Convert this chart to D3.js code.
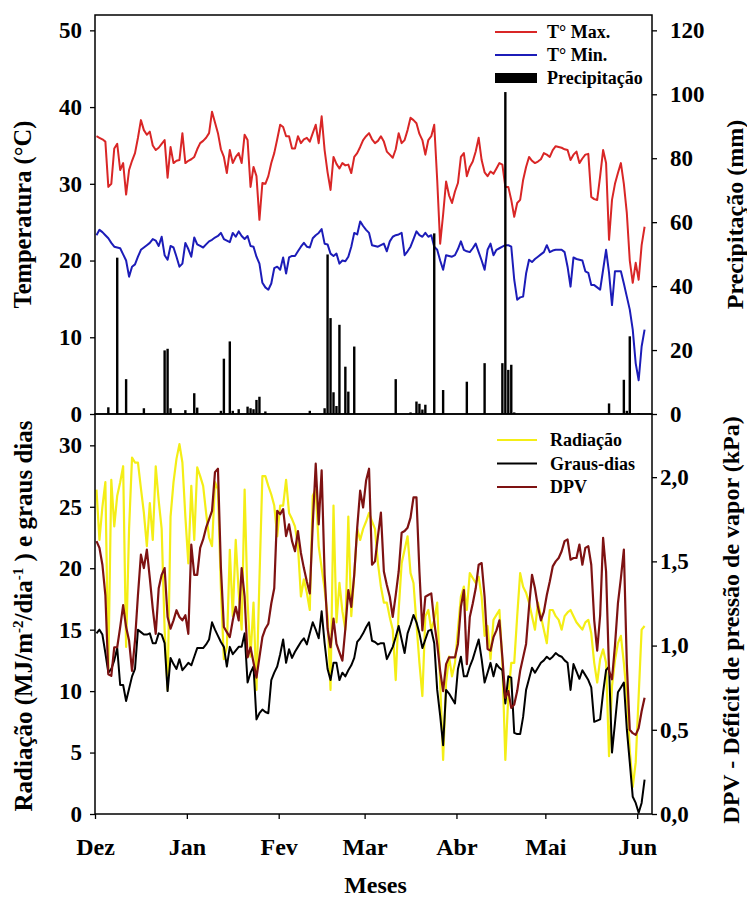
<!DOCTYPE html>
<html>
<head>
<meta charset="utf-8">
<script src="https://cdn.jsdelivr.net/npm/d3@7"></script>
<style>
  html, body { margin: 0; padding: 0; background: #fff; }
  svg text, svg tspan { font-family: "Liberation Serif", "Times New Roman", serif; font-weight: bold; fill: #000; }
</style>
</head>
<body>
<svg id="chart" width="747" height="897"></svg>
<script>
// Daily weather record, one value per day starting 1 Dec 2015
const startDate = new Date(2015, 11, 1, 12);

// Temperature (°C)
const tMax = [
  36.2,36.0,35.8,35.5,29.6,30.0,34.6,35.2,31.8,32.7,
  28.6,31.8,33.0,34.0,36.0,38.3,37.0,36.4,36.8,35.0,
  34.4,34.7,35.2,35.7,30.8,34.8,32.7,33.0,33.1,36.6,
  32.7,33.0,33.2,33.5,34.5,35.3,35.6,36.0,36.6,39.4,
  38.0,36.6,34.5,33.5,31.4,34.4,32.7,33.5,34.0,32.7,
  36.4,35.7,29.6,32.2,31.0,25.3,30.1,30.0,31.0,32.7,
  34.0,35.8,37.7,37.4,36.2,36.2,34.6,34.6,36.2,35.3,
  35.8,36.0,35.5,36.6,37.7,35.3,38.8,34.4,31.5,29.2,
  33.5,32.6,32.0,32.7,32.4,32.5,31.4,33.5,34.0,34.8,
  35.7,36.2,36.6,35.8,35.3,35.6,36.2,35.5,34.2,33.8,
  33.4,34.5,36.6,35.3,35.7,37.0,38.6,38.3,37.9,36.5,
  35.7,33.8,35.7,36.2,37.7,30.5,22.2,26.0,30.3,28.5,
  27.5,29.0,30.1,33.5,34.0,31.0,32.2,32.9,34.2,36.0,
  33.1,31.5,31.0,31.6,31.3,32.0,32.7,32.5,29.6,29.6,
  27.9,25.7,27.5,27.9,30.5,32.2,33.5,33.0,32.7,32.9,
  33.2,34.0,33.8,33.5,34.4,34.9,34.8,34.7,34.5,34.4,
  33.1,33.8,34.2,32.7,33.3,33.8,33.9,28.3,28.0,27.9,
  31.0,34.4,32.7,22.7,27.9,30.0,31.4,32.7,30.0,26.2,
  20.0,17.1,19.7,17.5,22.0,24.4
];
const tMin = [
  23.3,24.0,23.7,23.3,22.9,22.3,21.8,21.7,21.6,20.8,
  20.0,17.9,19.2,19.5,20.5,21.4,21.7,22.0,22.3,22.8,
  22.6,21.9,23.1,20.7,20.1,21.9,21.7,20.5,19.2,19.6,
  22.3,21.5,20.5,23.0,22.1,21.9,21.7,22.1,22.5,22.7,
  23.0,23.2,23.6,22.8,22.6,22.4,23.6,23.1,23.8,23.2,
  22.8,23.2,21.9,21.8,20.5,19.6,17.1,16.5,16.2,17.0,
  19.0,19.2,18.8,20.4,18.3,20.4,20.6,20.6,21.2,21.8,
  22.3,21.8,21.7,22.9,23.3,23.6,24.1,22.2,22.1,20.9,
  20.6,20.9,19.6,20.0,19.9,20.5,21.8,23.6,23.4,25.1,
  24.5,24.0,23.6,22.0,21.9,21.8,22.0,22.2,21.2,22.5,
  23.1,23.3,23.4,23.6,20.7,21.2,21.8,22.8,23.8,23.3,
  23.1,23.6,23.1,23.3,21.8,21.4,20.0,18.8,20.7,20.6,
  20.5,20.7,21.5,22.5,21.4,21.2,21.1,21.6,22.2,21.1,
  20.0,18.8,21.4,22.2,20.7,21.4,21.6,21.8,22.0,22.0,
  21.8,17.5,14.9,15.2,15.3,18.3,20.1,19.8,20.2,20.5,
  20.8,21.1,22.0,21.1,21.3,21.4,21.4,21.4,21.1,19.2,
  16.6,20.4,20.2,20.1,20.0,18.6,18.4,16.8,16.8,16.5,
  16.2,18.8,21.4,18.4,14.2,18.6,18.6,18.6,17.0,15.3,
  13.6,11.0,6.6,4.4,8.8,11.0
];

// Rain days (offset from 1 Dec) and amounts (mm)
const precipDays = [4,7,10,16,23,24,25,30,33,34,42,43,45,46,48,51,52,53,54,55,57,72,
  77,78,79,80,81,82,84,85,87,101,106,108,109,110,111,114,117,125,131,
  137,138,139,140,141,173,178,179,180,183];
const precipMm = [2.1,48.9,10.9,1.8,19.9,20.4,1.8,1.2,6.5,2.0,1.0,17.3,22.7,1.0,1.5,2.3,1.8,1.5,4.4,5.4,0.8,1.0,
  1.8,49.9,30.0,6.8,2.5,27.9,14.8,7.0,21.1,10.9,0.5,3.9,3.2,1.4,2.9,56.5,7.5,10.1,15.9,
  15.9,100.7,13.8,15.4,0.5,3.3,10.7,1.0,24.3,0.3];

// Solar radiation (MJ/m2/dia)
const radiacao = [
  26.4,22.3,25.0,27.0,11.8,27.2,23.4,25.9,27.0,28.3,
  13.6,23.2,29.0,28.6,28.6,26.5,24.5,21.8,25.3,22.3,
  28.3,25.5,23.2,15.0,10.1,24.2,27.0,28.9,30.1,28.6,
  24.2,20.4,26.7,22.3,28.2,27.5,26.7,24.5,22.5,21.8,
  27.0,26.4,18.3,12.6,13.6,21.5,16.1,22.3,18.0,15.0,
  26.4,17.2,12.8,17.2,10.1,19.1,27.5,27.5,26.7,26.0,
  25.1,22.6,25.1,25.1,27.2,24.5,24.0,23.4,21.8,17.7,
  19.1,18.0,16.6,25.9,26.4,21.8,20.0,18.3,16.1,10.1,
  25.1,15.6,18.8,16.5,15.0,24.2,16.1,19.5,23.2,22.3,
  23.2,23.8,24.5,23.8,23.2,20.4,18.5,17.2,17.2,16.0,
  15.0,10.9,16.6,20.4,21.5,22.6,19.6,18.8,15.5,12.3,
  9.6,16.1,16.6,15.0,15.8,17.2,10.7,4.4,10.7,12.8,
  11.2,12.3,15.0,17.7,18.5,16.6,19.6,19.2,18.8,19.3,
  17.7,14.5,15.3,12.6,15.8,16.2,16.6,12.3,4.4,9.6,
  12.3,12.3,16.1,19.6,18.5,18.0,17.2,16.1,15.0,17.2,
  16.1,15.0,13.9,16.6,16.6,16.1,15.8,15.0,16.1,16.4,
  16.6,16.1,15.6,15.3,15.0,15.6,15.8,14.7,12.3,10.7,
  12.6,13.4,12.3,4.7,10.4,12.5,13.9,14.5,12.3,9.6,
  5.2,2.2,4.2,9.6,15.0,15.3
];

// Growing degree-days
const grausDias = [
  14.7,15.0,14.6,13.1,11.5,11.8,12.5,13.5,10.5,10.5,
  9.2,10.2,11.2,11.8,15.0,14.8,14.6,14.6,14.7,13.9,
  13.9,14.7,14.6,13.9,10.0,12.7,12.2,11.8,12.6,11.7,
  12.0,12.3,12.1,12.8,13.5,13.5,13.5,13.8,14.2,15.6,
  15.0,14.5,14.0,13.6,12.0,13.6,13.0,13.3,13.6,13.6,
  14.7,10.7,11.5,12.0,7.7,8.2,8.5,8.3,8.2,10.9,
  11.5,12.0,13.0,14.2,12.3,13.4,12.7,13.2,13.6,14.0,
  14.3,13.8,14.7,15.6,15.0,14.3,16.5,13.9,11.8,10.9,
  12.3,12.3,10.9,11.5,11.2,11.7,12.1,12.7,14.0,14.3,
  14.7,15.2,15.6,14.1,14.0,13.8,13.9,13.9,12.6,13.1,
  13.6,14.4,15.3,14.2,13.1,14.7,15.4,16.2,15.6,14.7,
  13.5,14.2,14.9,15.0,13.9,10.1,8.0,5.6,10.1,9.8,
  9.4,9.0,11.8,12.8,11.2,11.2,12.0,12.6,13.4,14.2,
  12.6,10.7,11.5,12.3,11.2,12.2,11.9,11.7,9.0,11.2,
  11.1,6.6,6.5,6.5,7.9,10.1,11.0,11.9,11.5,11.9,
  12.3,12.5,12.8,12.6,12.8,13.1,12.9,12.8,12.5,12.3,
  10.1,12.2,11.6,11.0,11.7,11.3,10.9,10.3,7.5,7.6,
  7.7,9.9,11.7,12.0,5.0,7.4,9.9,10.3,10.7,6.9,
  4.2,1.4,0.9,0.1,0.9,2.8
];

// Vapour pressure deficit (kPa)
const dpv = [
  1.62,1.58,1.48,1.30,0.83,0.82,0.99,0.99,1.11,1.24,
  1.11,1.03,0.85,1.03,1.30,1.54,1.46,1.57,1.40,1.22,
  1.07,1.34,1.42,1.46,1.17,1.10,1.15,1.21,1.17,1.15,
  1.18,1.07,1.60,1.42,1.42,1.58,1.63,1.70,1.75,1.80,
  2.03,2.05,1.46,1.11,1.08,1.05,1.15,1.23,1.15,1.46,
  1.29,0.93,0.99,0.90,0.81,0.93,1.05,1.10,1.13,1.25,
  1.34,1.80,1.78,1.81,1.65,1.72,1.62,1.56,1.68,1.55,
  1.46,1.38,1.31,1.72,2.08,1.72,2.04,1.42,1.10,0.99,
  1.16,1.01,0.96,0.91,1.10,1.33,1.23,1.42,1.70,1.92,
  1.82,1.98,2.05,1.48,1.50,1.65,1.79,1.44,1.36,1.29,
  1.17,1.30,1.44,1.67,1.68,1.70,1.76,1.88,1.88,1.44,
  1.09,1.29,1.30,1.31,1.14,1.01,0.85,0.73,0.89,0.93,
  0.93,0.93,1.01,1.23,1.33,0.89,1.17,1.25,1.34,1.48,
  1.49,1.29,0.98,0.97,1.05,1.09,1.15,0.93,0.69,0.73,
  0.63,0.65,0.73,0.85,0.93,1.01,1.23,1.42,1.34,1.23,
  1.15,1.20,1.30,1.38,1.47,1.50,1.52,1.56,1.62,1.63,
  1.51,1.52,1.52,1.60,1.48,1.58,1.59,1.48,1.15,0.97,
  1.18,1.64,1.44,0.85,0.80,1.00,1.25,1.40,1.57,0.89,
  0.50,0.48,0.47,0.51,0.61,0.69
];

// Axis ticks and labels
const monthTicks = [[2015,11,1],[2016,0,1],[2016,1,1],[2016,2,1],[2016,3,1],[2016,4,1],[2016,5,1]];
const monthLabels = ["Dez","Jan","Fev","Mar","Abr","Mai","Jun"];
const tempTicks = [0,10,20,30,40,50];
const precipTicks = [0,20,40,60,80,100,120];
const radTicks = [0,5,10,15,20,25,30];
const dpvTicks = [0,0.5,1.0,1.5,2.0];

// ---------------------------------------------------------------
const FONT = "'Liberation Serif', 'Times New Roman', serif";
const svg = d3.select("#chart");
const L = 95, R = 652, T1 = 15, M = 414, B = 814;

const dayDate = i => d3.timeDay.offset(startDate, i);
const x = d3.scaleTime().domain([new Date(2015, 11, 1), new Date(2016, 5, 6)]).range([L, R]);
const yTemp = d3.scaleLinear().domain([0, 52]).range([M, T1]);
const yPrec = d3.scaleLinear().domain([0, 124.8]).range([M, T1]);
const yRad  = d3.scaleLinear().domain([0, 32.55]).range([B, M]);
const yDpv  = d3.scaleLinear().domain([0, 2.375]).range([B, M]);

const comma = d => d3.format(".1f")(d).replace(".", ",");

function styleAxis(g, size) {
  g.select(".domain").remove();
  g.selectAll(".tick line").attr("stroke", "#000").attr("stroke-width", 1.3);
  g.selectAll(".tick text").attr("font-size", size)
    .attr("font-family", FONT)
    .attr("font-weight", "bold").attr("fill", "#000");
}

const seriesLine = yScale => d3.line().x((d, i) => x(dayDate(i))).y(d => yScale(d));

// ---- Upper panel: temperature + precipitation ----
const upper = svg.append("g");

upper.append("path").datum(tMax)
  .attr("fill", "none").attr("stroke", "#d92626").attr("stroke-width", 2)
  .attr("stroke-linejoin", "round")
  .attr("d", seriesLine(yTemp));
upper.append("path").datum(tMin)
  .attr("fill", "none").attr("stroke", "#1c1cb8").attr("stroke-width", 2)
  .attr("stroke-linejoin", "round")
  .attr("d", seriesLine(yTemp));

const barW = 2.4;
upper.selectAll("rect.prec").data(precipDays.map((d, i) => ({ day: d, mm: precipMm[i] })))
  .join("rect").attr("class", "prec")
  .attr("x", d => x(dayDate(d.day)) - barW / 2)
  .attr("width", barW)
  .attr("y", d => yPrec(d.mm))
  .attr("height", d => yPrec(0) - yPrec(d.mm))
  .attr("fill", "#000");

upper.append("g").attr("transform", `translate(${L},0)`)
  .call(d3.axisLeft(yTemp).tickValues(tempTicks).tickSize(5).tickPadding(8).tickFormat(d3.format("d")))
  .call(g => styleAxis(g, 23));
upper.append("g").attr("transform", `translate(${R},0)`)
  .call(d3.axisRight(yPrec).tickValues(precipTicks).tickSize(5).tickPadding(13).tickFormat(d3.format("d")))
  .call(g => styleAxis(g, 23));

// ---- Lower panel: radiation, degree-days, VPD ----
const lower = svg.append("g");

lower.append("path").datum(radiacao)
  .attr("fill", "none").attr("stroke", "#f4ee16").attr("stroke-width", 2.2)
  .attr("stroke-linejoin", "round")
  .attr("d", seriesLine(yRad));
lower.append("path").datum(grausDias)
  .attr("fill", "none").attr("stroke", "#000").attr("stroke-width", 2)
  .attr("stroke-linejoin", "round")
  .attr("d", seriesLine(yRad));
lower.append("path").datum(dpv)
  .attr("fill", "none").attr("stroke", "#7e1212").attr("stroke-width", 2.2)
  .attr("stroke-linejoin", "round")
  .attr("d", seriesLine(yDpv));

lower.append("g").attr("transform", `translate(${L},0)`)
  .call(d3.axisLeft(yRad).tickValues(radTicks).tickSize(5).tickPadding(8).tickFormat(d3.format("d")))
  .call(g => styleAxis(g, 23));
lower.append("g").attr("transform", `translate(${R},0)`)
  .call(d3.axisRight(yDpv).tickValues(dpvTicks).tickSize(5).tickPadding(3).tickFormat(comma))
  .call(g => styleAxis(g, 23));

const monthDates = monthTicks.map(m => new Date(m[0], m[1], m[2]));
lower.append("g").attr("transform", `translate(0,${B})`)
  .call(d3.axisBottom(x).tickValues(monthDates).tickSize(5).tickPadding(19)
    .tickFormat((d, i) => monthLabels[i]))
  .call(g => styleAxis(g, 24));

// Panel frames
svg.append("rect").attr("x", L).attr("y", T1).attr("width", R - L).attr("height", M - T1)
  .attr("fill", "none").attr("stroke", "#000").attr("stroke-width", 1.5);
svg.append("rect").attr("x", L).attr("y", M).attr("width", R - L).attr("height", B - M)
  .attr("fill", "none").attr("stroke", "#000").attr("stroke-width", 1.5);

// ---- Axis titles ----
function title(tx, ty, size) {
  return svg.append("text")
    .attr("transform", `translate(${tx},${ty}) rotate(-90)`)
    .attr("text-anchor", "middle")
    .attr("font-family", FONT).attr("font-weight", "bold")
    .attr("font-size", size);
}
title(31, (T1 + M) / 2, 24.5).text("Temperatura (°C)");
title(743, (T1 + M) / 2, 24).text("Precipitação (mm)");

const radTitle = title(32, (M + B) / 2 + 2, 25);
const part = (t, sup, dy) => radTitle.append("tspan")
  .attr("font-family", FONT).attr("font-weight", "bold")
  .attr("font-size", sup ? 15 : 25)
  .attr("dy", dy)
  .text(t);
part("Radiação (MJ/m", false, 0);
part("-2", true, -9);
part("/dia", false, 9);
part("-1", true, -9);
part(" ) e graus dias", false, 9);

title(739, (M + B) / 2 + 6, 24).text("DPV - Déficit de pressão de vapor (kPa)");

svg.append("text").attr("x", (L + R) / 2 + 2).attr("y", 893)
  .attr("text-anchor", "middle").attr("font-family", FONT).attr("font-weight", "bold")
  .attr("font-size", 24).text("Meses");

// ---- Legends ----
const legTop = [
  { label: "T° Max.", color: "#d92626", type: "line" },
  { label: "T° Min.", color: "#1c1cb8", type: "line" },
  { label: "Precipitação", color: "#000", type: "bar" }
];
legTop.forEach((d, i) => {
  const cy = 32 + i * 23;
  if (d.type === "line") {
    svg.append("line").attr("x1", 495).attr("x2", 537).attr("y1", cy).attr("y2", cy)
      .attr("stroke", d.color).attr("stroke-width", 2);
  } else {
    svg.append("rect").attr("x", 495).attr("y", cy - 5).attr("width", 42).attr("height", 10)
      .attr("fill", d.color);
  }
  svg.append("text").attr("x", 547).attr("y", cy + 6)
    .attr("font-family", FONT).attr("font-weight", "bold").attr("font-size", 18).text(d.label);
});

const legBot = [
  { label: "Radiação", color: "#f4ee16" },
  { label: "Graus-dias", color: "#000" },
  { label: "DPV", color: "#7e1212" }
];
legBot.forEach((d, i) => {
  const cy = 440 + i * 23.5;
  svg.append("line").attr("x1", 497).attr("x2", 537).attr("y1", cy).attr("y2", cy)
    .attr("stroke", d.color).attr("stroke-width", 2.2);
  svg.append("text").attr("x", 550).attr("y", cy + 6)
    .attr("font-family", FONT).attr("font-weight", "bold").attr("font-size", 18).text(d.label);
});
</script>
</body>
</html>
